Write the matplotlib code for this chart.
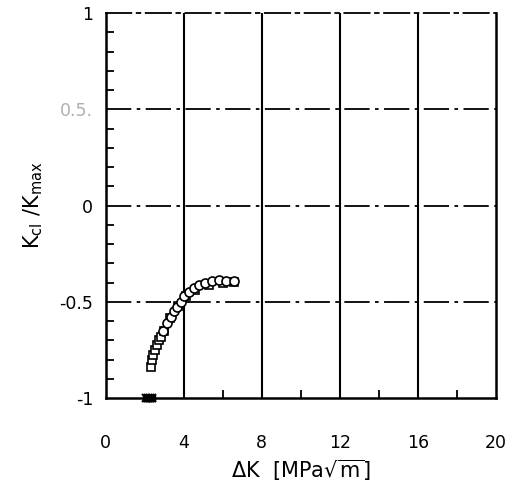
import matplotlib
matplotlib.use("Agg")
import matplotlib.pyplot as plt
from matplotlib.ticker import MultipleLocator, FixedLocator

# ---- data ----
circ_x = [2.95, 3.15, 3.32, 3.49, 3.66, 3.84, 4.0, 4.26, 4.52, 4.77, 5.11, 5.46, 5.80, 6.14, 6.57]
circ_y = [-0.65, -0.61, -0.58, -0.55, -0.525, -0.50, -0.47, -0.45, -0.43, -0.413, -0.40, -0.39, -0.385, -0.39, -0.39]
sq_x = [2.33, 2.39, 2.44, 2.51, 2.61, 2.73, 2.84, 2.98, 3.3, 3.7, 4.1, 4.6, 5.3, 6.0, 6.6]
sq_y = [-0.84, -0.80, -0.777, -0.75, -0.725, -0.70, -0.68, -0.65, -0.585, -0.52, -0.47, -0.44, -0.41, -0.40, -0.395]
bot_x = [2.05, 2.15, 2.25, 2.35]
bot_y = [-1.0, -1.0, -1.0, -1.0]

xticks = [0, 4, 8, 12, 16, 20]
xtick_labels = ["0", "4", "8", "12", "16", "20"]
yticks = [-1, -0.5, 0, 0.5, 1]
ytick_labels = ["-1", "-0.5", "0", "0.5.", "1"]

plt.rcParams['font.family'] = ['DejaVu Sans']
plt.rcParams['mathtext.fontset'] = 'dejavusans'

fig = plt.figure(figsize=(5.06, 4.82), dpi=100)
ax = fig.add_axes([0.209, 0.174, 0.771, 0.799])
ax.set_xlim(0, 20)
ax.set_ylim(-1, 1)

dashdot = (0, (14, 3, 2, 3))
# grid
for gx in [4, 8, 12, 16]:
    ax.axvline(gx, color='black', lw=1.5, zorder=1)
for gy in [-0.5, 0, 0.5]:
    ax.axhline(gy, color='black', lw=1.3, linestyle=dashdot, zorder=1)

# data
ax.plot(sq_x, sq_y, linestyle='none', marker='s', ms=5.5, mfc='white', mec='black', mew=1.2, zorder=3)
ax.plot(circ_x, circ_y, linestyle='none', marker='o', ms=6.5, mfc='white', mec='black', mew=1.2, zorder=4)
ax.plot(bot_x, bot_y, linestyle='none', marker='x', ms=6, color='black', mew=1.5, zorder=4, clip_on=False)
ax.plot(bot_x, bot_y, linestyle='none', marker='s', ms=5, mfc='black', mec='black', zorder=4, clip_on=False)

# spines
for s in ['left', 'right', 'bottom']:
    ax.spines[s].set_linewidth(1.8)
ax.spines['top'].set_linestyle(dashdot)
ax.spines['top'].set_linewidth(1.3)

# ticks
ax.set_xticks(xticks)
ax.set_xticklabels(xtick_labels)
ax.set_yticks(yticks)
ax.set_yticklabels(ytick_labels)
ax.xaxis.set_minor_locator(FixedLocator([6, 10, 14, 18]))
ax.yaxis.set_minor_locator(MultipleLocator(0.1))
ax.tick_params(axis='both', which='major', length=0, labelsize=12.5)
ax.tick_params(axis='x', which='major', pad=26)
ax.tick_params(axis='y', which='major', pad=9)
ax.tick_params(axis='x', which='minor', direction='in', length=6, width=1.3, top=False)
ax.tick_params(axis='y', which='minor', direction='in', length=6, width=1.3, right=False)
ax.get_yticklabels()[3].set_color('#b0b0b0')

ax.set_xlabel(r"$\Delta$K  [MPa$\sqrt{\mathrm{m}}$]", fontsize=15, labelpad=4)
ax.set_ylabel(r"K$_{\mathrm{cl}}$ /K$_{\mathrm{max}}$", fontsize=15, labelpad=10)

fig.savefig("out.png", dpi=100)
